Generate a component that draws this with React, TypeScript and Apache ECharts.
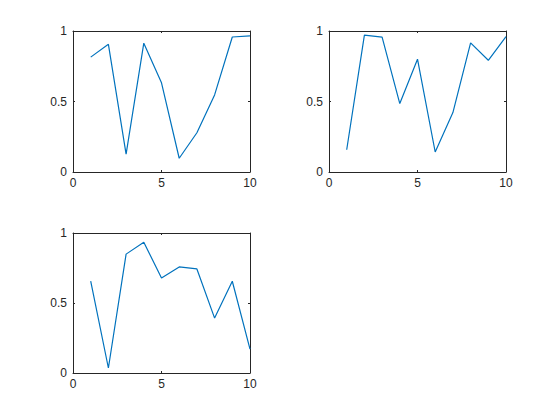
import React, { useEffect, useRef } from "react";
import * as echarts from "echarts";

const xValues = [1, 2, 3, 4, 5, 6, 7, 8, 9, 10];
const series1 = [0.8147, 0.9058, 0.127, 0.9134, 0.6324, 0.0975, 0.2785, 0.5469, 0.9575, 0.9649];
const series2 = [0.1576, 0.9706, 0.9572, 0.4854, 0.8003, 0.1419, 0.4218, 0.9157, 0.7922, 0.9595];
const series3 = [0.6557, 0.0357, 0.8491, 0.934, 0.6787, 0.7577, 0.7431, 0.3922, 0.6555, 0.1712];
const allSeries = [series1, series2, series3];

const grids = [
  { left: 73, top: 31, width: 177, height: 141 },
  { left: 329, top: 31, width: 177, height: 141 },
  { left: 73, top: 233, width: 177, height: 140 },
];

const axisColor = "#262626";
const font = "Liberation Sans, Arial, Helvetica, sans-serif";

export default function App() {
  const ref = useRef<HTMLDivElement>(null);
  useEffect(() => {
    if (!ref.current) return;
    const chart = echarts.init(ref.current, undefined, { renderer: "svg" });
    const xAxis: any[] = [];
    const yAxis: any[] = [];
    const series: any[] = [];
    grids.forEach((g, i) => {
      const common = {
        gridIndex: i,
        axisLine: { show: true, onZero: false, lineStyle: { color: axisColor, width: 1 } },
        axisTick: { show: true, inside: true, length: 2, lineStyle: { color: axisColor } },
        splitLine: { show: false },
      };
      xAxis.push({
        ...common,
        type: "value",
        min: 0,
        max: 10,
        interval: 5,
        position: "bottom",
        axisLabel: { color: axisColor, fontSize: 12, fontFamily: font, margin: 5 },
      });
      xAxis.push({
        ...common,
        type: "value",
        min: 0,
        max: 10,
        interval: 5,
        position: "top",
        axisLabel: { show: false },
      });
      yAxis.push({
        ...common,
        type: "value",
        min: 0,
        max: 1,
        interval: 0.5,
        position: "left",
        axisLabel: { color: axisColor, fontSize: 12, fontFamily: font, margin: 6 },
      });
      yAxis.push({
        ...common,
        type: "value",
        min: 0,
        max: 1,
        interval: 0.5,
        position: "right",
        axisLabel: { show: false },
      });
      series.push({
        type: "line",
        xAxisIndex: i * 2,
        yAxisIndex: i * 2,
        data: xValues.map((x, k) => [x, allSeries[i][k]]),
        showSymbol: false,
        symbol: "none",
        lineStyle: { color: "#0072BD", width: 1.2 },
        clip: true,
      });
    });
    chart.setOption({
      animation: false,
      backgroundColor: "#ffffff",
      grid: grids.map((g) => ({ ...g, containLabel: false })),
      xAxis,
      yAxis,
      series,
    });
    return () => chart.dispose();
  }, []);
  return (
    <div
      ref={ref}
      style={{ position: "fixed", left: 0, top: 0, width: 560, height: 420 }}
    />
  );
}
